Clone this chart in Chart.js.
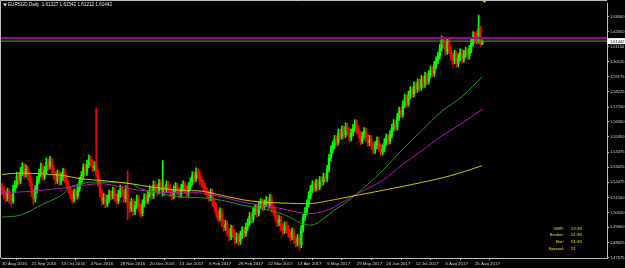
<!DOCTYPE html>
<html>
<head>
<meta charset="utf-8">
<script src="https://cdn.jsdelivr.net/npm/chart.js@4.4.0/dist/chart.umd.min.js"></script>
<style>
  html, body { margin: 0; padding: 0; background: #000; }
  #wrap { width: 625px; height: 268px; }
</style>
</head>
<body>
<div id="wrap"><canvas id="chart" width="625" height="268"></canvas></div>
<script>
// EURSGD daily, 30 Aug 2016 .. 31 Aug 2017
const chartTitle = 'EURSGD,Daily  1.61227 1.61542 1.61212 1.61442';
const dateTicks = ['30 Aug 2016', '21 Sep 2016', '13 Oct 2016', '4 Nov 2016', '28 Nov 2016', '20 Dec 2016',
  '13 Jan 2017', '6 Feb 2017', '28 Feb 2017', '22 Mar 2017', '13 Apr 2017', '5 May 2017', '29 May 2017',
  '20 Jun 2017', '12 Jul 2017', '3 Aug 2017', '25 Aug 2017'];
const barsPerDateTick = 16;
const priceTicks = [1.63000, 1.62050, 1.61100, 1.60125, 1.59175, 1.58225, 1.57250, 1.56300, 1.55350,
  1.54375, 1.53425, 1.52475, 1.51500, 1.50550, 1.49600, 1.48625, 1.47675];

const opens = [
  1.5210,1.5195,1.5170,1.5150,1.5185,1.5140,1.5130,1.5205,1.5230,1.5280,
  1.5255,1.5310,1.5345,1.5300,1.5330,1.5290,1.5250,1.5180,1.5140,1.5200,
  1.5260,1.5300,1.5340,1.5285,1.5320,1.5370,1.5350,1.5380,1.5330,1.5290,
  1.5260,1.5300,1.5250,1.5280,1.5310,1.5270,1.5230,1.5200,1.5170,1.5140,
  1.5180,1.5160,1.5210,1.5250,1.5290,1.5340,1.5310,1.5360,1.5390,1.5370,
  1.5340,1.5350,1.5300,1.5250,1.5180,1.5130,1.5150,1.5110,1.5140,1.5170,
  1.5160,1.5190,1.5150,1.5130,1.5170,1.5200,1.5180,1.5140,1.5200,1.5100,
  1.5080,1.5120,1.5060,1.5100,1.5140,1.5090,1.5050,1.5110,1.5150,1.5130,
  1.5170,1.5200,1.5160,1.5230,1.5210,1.5190,1.5240,1.5185,1.5215,1.5200,
  1.5230,1.5210,1.5180,1.5160,1.5200,1.5220,1.5190,1.5170,1.5210,1.5230,
  1.5200,1.5180,1.5220,1.5250,1.5290,1.5270,1.5310,1.5300,1.5260,1.5240,
  1.5220,1.5190,1.5170,1.5150,1.5180,1.5120,1.5090,1.5050,1.5020,1.5060,
  1.4990,1.4960,1.4980,1.4930,1.4900,1.4950,1.4920,1.4880,1.4900,1.4870,
  1.4910,1.4940,1.4920,1.4960,1.4990,1.5030,1.5010,1.5060,1.5080,1.5050,
  1.5100,1.5120,1.5090,1.5110,1.5130,1.5100,1.5140,1.5080,1.5060,1.5020,
  1.4990,1.5010,1.4960,1.4940,1.4970,1.4950,1.4920,1.4900,1.4930,1.4880,
  1.4860,1.4890,1.4850,1.4950,1.5020,1.5060,1.5110,1.5160,1.5200,1.5230,
  1.5210,1.5240,1.5220,1.5260,1.5250,1.5280,1.5270,1.5330,1.5400,1.5450,
  1.5480,1.5520,1.5500,1.5560,1.5540,1.5580,1.5550,1.5600,1.5570,1.5530,
  1.5560,1.5590,1.5620,1.5580,1.5550,1.5510,1.5540,1.5570,1.5530,1.5500,
  1.5520,1.5480,1.5450,1.5480,1.5510,1.5470,1.5440,1.5460,1.5500,1.5530,
  1.5510,1.5550,1.5590,1.5620,1.5600,1.5660,1.5700,1.5680,1.5740,1.5780,
  1.5750,1.5800,1.5830,1.5810,1.5860,1.5840,1.5880,1.5850,1.5900,1.5870,
  1.5920,1.5890,1.5930,1.5960,1.5940,1.5990,1.6020,1.6050,1.6100,1.6150,
  1.6120,1.6080,1.6140,1.6090,1.6050,1.6020,1.6060,1.6000,1.6040,1.6070,
  1.6030,1.6060,1.6080,1.6050,1.6090,1.6130,1.6180,1.6160,1.6150,1.6230,
  1.61227
];
const highs = [
  1.5238,1.5220,1.5195,1.5210,1.5202,1.5170,1.5228,1.5258,1.5310,1.5302,
  1.5340,1.5372,1.5365,1.5358,1.5350,1.5312,1.5272,1.5205,1.5225,1.5285,
  1.5328,1.5368,1.5362,1.5348,1.5402,1.5395,1.5412,1.5400,1.5352,1.5315,
  1.5325,1.5320,1.5306,1.5335,1.5332,1.5292,1.5255,1.5222,1.5195,1.5205,
  1.5202,1.5235,1.5278,1.5315,1.5366,1.5362,1.5388,1.5420,1.5412,1.5392,
  1.5378,1.5720,1.5325,1.5272,1.5202,1.5178,1.5170,1.5165,1.5195,1.5192,
  1.5215,1.5210,1.5175,1.5195,1.5228,1.5222,1.5202,1.5225,1.5320,1.5125,
  1.5145,1.5140,1.5125,1.5165,1.5160,1.5110,1.5135,1.5175,1.5172,1.5195,
  1.5225,1.5220,1.5255,1.5252,1.5232,1.5265,1.5262,1.5385,1.5225,1.5255,
  1.5252,1.5230,1.5202,1.5225,1.5246,1.5240,1.5212,1.5235,1.5255,1.5250,
  1.5222,1.5245,1.5275,1.5315,1.5312,1.5338,1.5332,1.5322,1.5282,1.5262,
  1.5242,1.5212,1.5192,1.5205,1.5200,1.5142,1.5112,1.5072,1.5085,1.5080,
  1.5012,1.5005,1.5000,1.4952,1.4975,1.4972,1.4942,1.4925,1.4922,1.4935,
  1.4965,1.4962,1.4985,1.5015,1.5055,1.5052,1.5085,1.5105,1.5102,1.5125,
  1.5145,1.5142,1.5135,1.5155,1.5152,1.5170,1.5160,1.5102,1.5082,1.5042,
  1.5035,1.5030,1.4982,1.4995,1.4992,1.4972,1.4942,1.4955,1.4950,1.4902,
  1.4915,1.4910,1.4975,1.5045,1.5085,1.5135,1.5185,1.5225,1.5255,1.5252,
  1.5265,1.5262,1.5285,1.5282,1.5305,1.5302,1.5355,1.5425,1.5478,1.5505,
  1.5545,1.5542,1.5585,1.5582,1.5605,1.5602,1.5625,1.5622,1.5592,1.5585,
  1.5615,1.5645,1.5642,1.5602,1.5572,1.5565,1.5595,1.5592,1.5552,1.5545,
  1.5542,1.5502,1.5505,1.5535,1.5532,1.5492,1.5485,1.5525,1.5555,1.5552,
  1.5575,1.5615,1.5645,1.5642,1.5685,1.5725,1.5722,1.5765,1.5805,1.5802,
  1.5825,1.5855,1.5852,1.5885,1.5882,1.5905,1.5902,1.5925,1.5922,1.5945,
  1.5942,1.5955,1.5985,1.5982,1.6015,1.6045,1.6075,1.6125,1.6178,1.6172,
  1.6142,1.6165,1.6160,1.6112,1.6072,1.6085,1.6080,1.6065,1.6095,1.6092,
  1.6085,1.6105,1.6102,1.6115,1.6155,1.6205,1.6202,1.6210,1.6310,1.6240,
  1.61542
];
const lows = [
  1.5168,1.5140,1.5122,1.5128,1.5110,1.5095,1.5112,1.5180,1.5210,1.5228,
  1.5238,1.5288,1.5275,1.5280,1.5260,1.5222,1.5155,1.5108,1.5120,1.5178,
  1.5240,1.5280,1.5260,1.5265,1.5300,1.5322,1.5330,1.5308,1.5265,1.5235,
  1.5240,1.5228,1.5230,1.5258,1.5245,1.5205,1.5175,1.5142,1.5115,1.5120,
  1.5132,1.5140,1.5188,1.5230,1.5270,1.5285,1.5290,1.5340,1.5345,1.5315,
  1.5318,1.5275,1.5222,1.5155,1.5102,1.5108,1.5085,1.5090,1.5118,1.5135,
  1.5140,1.5128,1.5105,1.5112,1.5150,1.5155,1.5118,1.5120,1.5010,1.5052,
  1.5060,1.5035,1.5040,1.5080,1.5065,1.5025,1.5032,1.5090,1.5105,1.5112,
  1.5150,1.5138,1.5142,1.5185,1.5165,1.5172,1.5195,1.5160,1.5160,1.5180,
  1.5185,1.5155,1.5135,1.5140,1.5180,1.5168,1.5145,1.5150,1.5190,1.5175,
  1.5155,1.5160,1.5200,1.5230,1.5245,1.5252,1.5275,1.5235,1.5215,1.5195,
  1.5165,1.5145,1.5125,1.5130,1.5095,1.5065,1.5025,1.4995,1.5000,1.4965,
  1.4935,1.4940,1.4905,1.4875,1.4882,1.4895,1.4855,1.4860,1.4845,1.4852,
  1.4890,1.4895,1.4902,1.4940,1.4970,1.4985,1.4992,1.5040,1.5025,1.5032,
  1.5080,1.5065,1.5070,1.5090,1.5075,1.5082,1.5055,1.5035,1.4995,1.4965,
  1.4970,1.4935,1.4915,1.4920,1.4925,1.4895,1.4875,1.4880,1.4855,1.4835,
  1.4840,1.4815,1.4830,1.4930,1.5000,1.5040,1.5090,1.5140,1.5180,1.5185,
  1.5190,1.5195,1.5200,1.5225,1.5230,1.5245,1.5252,1.5310,1.5380,1.5430,
  1.5460,1.5475,1.5482,1.5515,1.5520,1.5525,1.5532,1.5545,1.5505,1.5510,
  1.5540,1.5570,1.5555,1.5525,1.5485,1.5490,1.5520,1.5505,1.5475,1.5480,
  1.5455,1.5425,1.5430,1.5460,1.5445,1.5415,1.5420,1.5440,1.5480,1.5485,
  1.5490,1.5530,1.5570,1.5575,1.5580,1.5640,1.5655,1.5660,1.5720,1.5725,
  1.5730,1.5780,1.5785,1.5790,1.5815,1.5820,1.5825,1.5830,1.5845,1.5850,
  1.5865,1.5870,1.5910,1.5915,1.5920,1.5970,1.6000,1.6030,1.6080,1.6095,
  1.6055,1.6060,1.6065,1.6025,1.5995,1.6000,1.5975,1.5980,1.6020,1.6005,
  1.6010,1.6040,1.6025,1.6030,1.6070,1.6110,1.6135,1.6125,1.6130,1.6110,
  1.61212
];
const closes = [
  1.5195,1.5170,1.5150,1.5185,1.5140,1.5130,1.5205,1.5230,1.5280,1.5255,
  1.5310,1.5345,1.5300,1.5330,1.5290,1.5250,1.5180,1.5140,1.5200,1.5260,
  1.5300,1.5340,1.5285,1.5320,1.5370,1.5350,1.5380,1.5330,1.5290,1.5260,
  1.5300,1.5250,1.5280,1.5310,1.5270,1.5230,1.5200,1.5170,1.5140,1.5180,
  1.5160,1.5210,1.5250,1.5290,1.5340,1.5310,1.5360,1.5390,1.5370,1.5340,
  1.5350,1.5300,1.5250,1.5180,1.5130,1.5150,1.5110,1.5140,1.5170,1.5160,
  1.5190,1.5150,1.5130,1.5170,1.5200,1.5180,1.5140,1.5200,1.5100,1.5080,
  1.5120,1.5060,1.5100,1.5140,1.5090,1.5050,1.5110,1.5150,1.5130,1.5170,
  1.5200,1.5160,1.5230,1.5210,1.5190,1.5240,1.5220,1.5215,1.5200,1.5230,
  1.5210,1.5180,1.5160,1.5200,1.5220,1.5190,1.5170,1.5210,1.5230,1.5200,
  1.5180,1.5220,1.5250,1.5290,1.5270,1.5310,1.5300,1.5260,1.5240,1.5220,
  1.5190,1.5170,1.5150,1.5180,1.5120,1.5090,1.5050,1.5020,1.5060,1.4990,
  1.4960,1.4980,1.4930,1.4900,1.4950,1.4920,1.4880,1.4900,1.4870,1.4910,
  1.4940,1.4920,1.4960,1.4990,1.5030,1.5010,1.5060,1.5080,1.5050,1.5100,
  1.5120,1.5090,1.5110,1.5130,1.5100,1.5140,1.5080,1.5060,1.5020,1.4990,
  1.5010,1.4960,1.4940,1.4970,1.4950,1.4920,1.4900,1.4930,1.4880,1.4860,
  1.4890,1.4850,1.4950,1.5020,1.5060,1.5110,1.5160,1.5200,1.5230,1.5210,
  1.5240,1.5220,1.5260,1.5250,1.5280,1.5270,1.5330,1.5400,1.5450,1.5480,
  1.5520,1.5500,1.5560,1.5540,1.5580,1.5550,1.5600,1.5570,1.5530,1.5560,
  1.5590,1.5620,1.5580,1.5550,1.5510,1.5540,1.5570,1.5530,1.5500,1.5520,
  1.5480,1.5450,1.5480,1.5510,1.5470,1.5440,1.5460,1.5500,1.5530,1.5510,
  1.5550,1.5590,1.5620,1.5600,1.5660,1.5700,1.5680,1.5740,1.5780,1.5750,
  1.5800,1.5830,1.5810,1.5860,1.5840,1.5880,1.5850,1.5900,1.5870,1.5920,
  1.5890,1.5930,1.5960,1.5940,1.5990,1.6020,1.6050,1.6100,1.6150,1.6120,
  1.6080,1.6140,1.6090,1.6050,1.6020,1.6060,1.6000,1.6040,1.6070,1.6030,
  1.6060,1.6080,1.6050,1.6090,1.6130,1.6180,1.6160,1.6150,1.6225,1.6123,
  1.61442
];

// moving averages, read at a handful of bars: [bar index, price]
const maGreen = [[0,1.5025],[10,1.5038],[21,1.5101],[32,1.5163],[37,1.5216],[43,1.5237],[48,1.5247],
  [59,1.5247],[70,1.5237],[75,1.5206],[86,1.5174],[97,1.5153],[108,1.5148],[119,1.5132],[130,1.5101],
  [140,1.5080],[151,1.5048],[157,1.5017],[162,1.4985],[168,1.4975],[173,1.5006],[180,1.5069],
  [189,1.5143],[206,1.5321],[216,1.5446],[227,1.5572],[238,1.5698],[249,1.5792],[260,1.5918]];
const maMagenta = [[0,1.5183],[10,1.5185],[21,1.5195],[32,1.5209],[43,1.5226],[54,1.5237],[65,1.5216],
  [75,1.5195],[86,1.5184],[97,1.5178],[108,1.5178],[119,1.5153],[130,1.5121],[140,1.5100],[151,1.5080],
  [162,1.5052],[168,1.5048],[173,1.5058],[180,1.5090],[189,1.5153],[206,1.5258],[216,1.5352],
  [227,1.5446],[238,1.5541],[249,1.5622],[260,1.5711]];
const maYellow = [[0,1.5296],[10,1.5305],[32,1.5291],[43,1.5268],[54,1.5258],[70,1.5237],[81,1.5216],
  [97,1.5195],[108,1.5190],[119,1.5163],[130,1.5136],[140,1.5121],[151,1.5115],[168,1.5111],
  [173,1.5121],[180,1.5136],[189,1.5157],[206,1.5195],[227,1.5245],[243,1.5289],[260,1.5352]];

const levelLine = 1.6164;     // magenta horizontal line
const bidPrice = 1.61442;     // last price line
const infoLabels = ['GMT:', 'Broker:', 'Bar:', 'Spread:'];
const infoValues = ['22:35', '01:35', '01:35', '21'];

const X_MIN = -0.55, X_MAX = 327.5;
const UP = '#00ff00', DOWN = '#ff0000', AXIS = '#bdbdbd', TXT = '#d8d8d8';

const idx = closes.map((_, i) => i);
const candleColors = idx.map(i => closes[i] >= opens[i] ? UP : DOWN);
const toPts = arr => arr.map(p => ({ x: p[0], y: p[1] }));
const flat = v => [{ x: X_MIN, y: v }, { x: X_MAX, y: v }];

const overlay = {
  id: 'mt4_overlay',
  beforeDraw(chart) {
    const c = chart.ctx;
    c.save();
    c.fillStyle = '#000';
    c.fillRect(0, 0, chart.width, chart.height);
    c.restore();
  },
  afterDraw(chart) {
    const c = chart.ctx;
    const a = chart.chartArea;
    const ys = chart.scales.y;
    c.save();
    // frame top/left
    c.strokeStyle = AXIS;
    c.lineWidth = 1;
    c.beginPath();
    c.moveTo(0.5, a.bottom); c.lineTo(0.5, 0.5); c.lineTo(a.right, 0.5);
    c.stroke();
    // title
    c.fillStyle = '#e8e8e8';
    c.beginPath();
    c.moveTo(3, 3.5); c.lineTo(7, 3.5); c.lineTo(5, 6.5); c.closePath(); c.fill();
    c.font = '4.6px "Liberation Sans"';
    c.textBaseline = 'middle';
    c.textAlign = 'left';
    c.fillText(chartTitle, 8, 5);
    // bid price label
    const by = ys.getPixelForValue(bidPrice);
    c.fillStyle = '#ffffff';
    c.fillRect(a.right, by - 3, chart.width - a.right, 6);
    c.fillStyle = '#000';
    c.font = '4px "Liberation Sans"';
    c.fillText(bidPrice.toFixed(5), a.right + 3, by + 0.3);
    // info box
    c.fillStyle = '#e6e600';
    c.font = '4.4px "Liberation Sans"';
    infoLabels.forEach((lab, k) => {
      const y = 228.5 + k * 6.6;
      c.textAlign = 'right';
      c.fillText(lab, 564, y);
      c.textAlign = 'left';
      c.fillText(infoValues[k], 571, y);
    });
    // marker over the last bars
    c.fillStyle = '#c8e040';
    c.beginPath();
    c.moveTo(482.5, 0.5); c.lineTo(486.5, 0.5); c.lineTo(484.5, 3); c.closePath(); c.fill();
    c.restore();
  }
};

new Chart(document.getElementById('chart').getContext('2d'), {
  type: 'bar',
  data: {
    datasets: [
      { type: 'line', data: flat(levelLine), borderColor: '#a000a0', borderWidth: 2, pointRadius: 0, order: 0 },
      { type: 'line', data: flat(bidPrice), borderColor: '#5fa82a', borderWidth: 1, pointRadius: 0, order: 0 },
      { type: 'line', data: toPts(maYellow), borderColor: '#c8c800', borderWidth: 1, pointRadius: 0, tension: 0.35, order: 1 },
      { type: 'line', data: toPts(maMagenta), borderColor: '#c010c0', borderWidth: 1, pointRadius: 0, tension: 0.35, order: 1 },
      { type: 'line', data: toPts(maGreen), borderColor: '#1e9a1e', borderWidth: 1, pointRadius: 0, tension: 0.35, order: 1 },
      { data: idx.map(i => ({ x: i, y: [lows[i], highs[i]] })), backgroundColor: candleColors,
        barThickness: 1, grouped: false, order: 3 },
      { data: idx.map(i => ({ x: i, y: [opens[i], closes[i]] })), backgroundColor: candleColors,
        barThickness: 1.6, grouped: false, order: 2 }
    ]
  },
  options: {
    responsive: false,
    animation: false,
    devicePixelRatio: 1,
    layout: { padding: { left: 1, top: 1, right: 0, bottom: 0 } },
    plugins: { legend: { display: false }, tooltip: { enabled: false } },
    scales: {
      x: {
        type: 'linear', min: X_MIN, max: X_MAX, offset: false,
        grid: { drawOnChartArea: false, drawTicks: true, tickLength: 2, color: AXIS },
        border: { display: true, color: AXIS, width: 1 },
        afterBuildTicks: s => { s.ticks = dateTicks.map((_, k) => ({ value: k * barsPerDateTick })); },
        afterFit: s => { s.height = 10; },
        ticks: {
          autoSkip: false, maxRotation: 0, align: 'start', padding: 1, color: TXT,
          font: { family: 'Liberation Sans', size: 4.4 },
          callback: v => dateTicks[Math.round(v / barsPerDateTick)]
        }
      },
      y: {
        position: 'right', min: 1.4765, max: 1.6384,
        grid: { drawOnChartArea: false, drawTicks: true, tickLength: 2, color: AXIS },
        border: { display: true, color: AXIS, width: 1 },
        afterBuildTicks: s => { s.ticks = priceTicks.map(v => ({ value: v })); },
        afterFit: s => { s.width = 18; },
        ticks: {
          color: TXT, padding: 1, font: { family: 'Liberation Sans', size: 4 },
          callback: v => Number(v).toFixed(5)
        }
      }
    }
  },
  plugins: [overlay]
});
</script>
</body>
</html>
